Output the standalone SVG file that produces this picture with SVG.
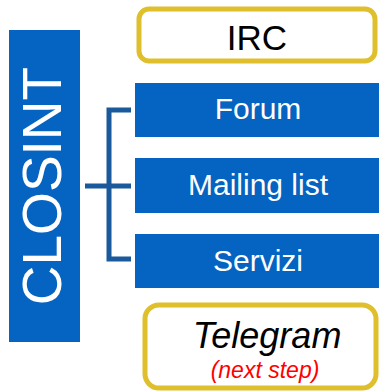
<svg xmlns="http://www.w3.org/2000/svg" width="379" height="391" viewBox="0 0 379 391">
<style>
.blue{fill:#0563C1}
.gold{fill:#fff;stroke:#DFBF2B;stroke-width:5}
.wt{fill:#fff;font-family:"Liberation Sans",Arial,sans-serif;font-size:30px;text-anchor:middle}
.bk{fill:#000;font-family:"Liberation Sans",Arial,sans-serif;text-anchor:middle}
.conn{fill:none;stroke:#1A5A9C;stroke-width:5}
</style>
<rect width="379" height="391" fill="#fff"/>
<g id="closint">
<rect class="blue" x="9" y="30" width="71" height="312"/>
<text class="wt" transform="translate(61,186) rotate(-90)" style="font-size:55px">CLOSINT</text>
</g>
<g id="connectors">
<path class="conn" d="M131,110 H109 V259 H131 M85,186 H131"/>
</g>
<g id="irc">
<rect class="gold" x="139" y="9" width="236" height="52" rx="10"/>
<text class="bk" x="257" y="50" style="font-size:35px">IRC</text>
</g>
<g id="forum">
<rect class="blue" x="135" y="83" width="244" height="54"/>
<text class="wt" x="258" y="119">Forum</text>
</g>
<g id="mailing">
<rect class="blue" x="135" y="158" width="244" height="55"/>
<text class="wt" x="258" y="195">Mailing list</text>
</g>
<g id="servizi">
<rect class="blue" x="135" y="234" width="244" height="54"/>
<text class="wt" x="258" y="271">Servizi</text>
</g>
<g id="telegram">
<rect class="gold" x="145" y="305" width="231" height="83" rx="14"/>
<text class="bk" x="267" y="348" style="font-size:36px;font-style:italic">Telegram</text>
<text class="bk" x="265" y="378" style="font-size:23px;font-style:italic;fill:#FF0000">(next step)</text>
</g>
</svg>
